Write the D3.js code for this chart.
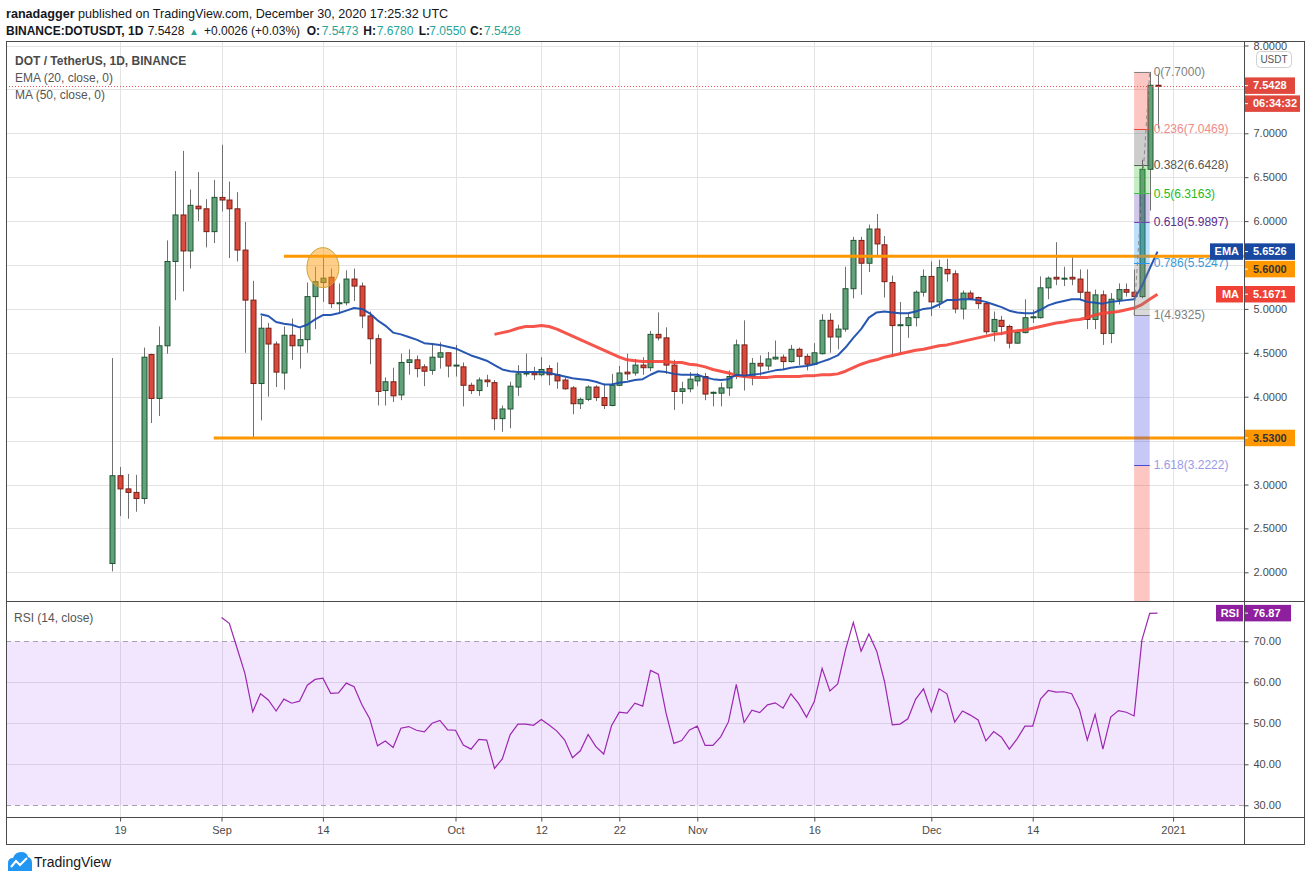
<!DOCTYPE html>
<html>
<head>
<meta charset="utf-8">
<script src="https://cdn.jsdelivr.net/npm/d3@7"></script>
<style>
  body { margin: 0; background: #fff; }
  svg { display: block; font-family: "Liberation Sans", Arial, sans-serif; }
</style>
</head>
<body>
<svg id="chart" width="1311" height="881"></svg>
<script>
// Daily candles DOT/USDT, one per day starting 2020-08-18
const firstDay = Date.UTC(2020, 7, 18);
const opens = [2.10, 3.10, 2.95, 2.91, 2.84, 4.48, 3.98, 4.58, 5.54, 6.07, 5.66, 6.17, 6.14, 5.88,
  6.27, 6.24, 6.14, 5.67, 5.10, 4.15, 4.78, 4.60, 4.27, 4.70, 4.58, 4.65, 5.14, 5.30, 5.36, 5.06, 5.07, 5.34, 5.26, 4.92, 4.66, 4.07, 4.17, 4.02, 4.39, 4.42, 4.34, 4.30, 4.45, 4.50,
  4.35, 4.34, 4.13, 4.07, 4.19, 4.16, 3.75, 3.86, 4.11, 4.26, 4.27, 4.25, 4.32, 4.25, 4.19, 4.10, 3.92, 3.97, 4.11, 3.99, 3.90, 4.13, 4.28, 4.27, 4.36, 4.33, 4.71, 4.67, 4.36, 4.06, 4.09,
  4.18, 4.23, 4.04, 4.04, 4.10, 4.23, 4.59, 4.23, 4.38, 4.35, 4.43, 4.45, 4.40, 4.54, 4.46, 4.37, 4.49, 4.87, 4.68, 4.77, 5.23, 5.78, 5.52, 5.91, 5.73, 5.30, 4.81, 4.81, 4.90, 5.19,
  5.37, 5.08, 5.45, 5.40, 5.00, 5.18, 5.13, 5.06, 4.74, 4.87, 4.80, 4.61, 4.73, 4.90, 4.90, 5.24, 5.36, 5.34, 5.36, 5.34, 5.19, 4.88, 5.16, 4.72, 5.11, 5.22, 5.19, 5.14, 6.59, 7.5473];
const highs = [4.44, 3.20, 3.12, 3.11, 4.56, 4.49, 4.80, 5.78, 6.57, 6.80, 6.36, 6.56, 6.25, 6.47,
  6.87, 6.45, 6.33, 5.99, 5.32, 4.92, 4.84, 4.63, 4.80, 4.89, 4.78, 5.30, 5.48, 5.59, 5.46, 5.29, 5.44, 5.46, 5.30, 4.97, 4.71, 4.22, 4.33, 4.49, 4.54, 4.47, 4.37, 4.61, 4.62, 4.50,
  4.59, 4.39, 4.16, 4.22, 4.25, 4.19, 3.90, 4.17, 4.36, 4.49, 4.34, 4.45, 4.36, 4.39, 4.22, 4.12, 3.99, 4.13, 4.13, 4.15, 4.26, 4.35, 4.49, 4.43, 4.45, 4.75, 4.96, 4.79, 4.42, 4.17, 4.28,
  4.27, 4.27, 4.06, 4.16, 4.30, 4.65, 4.87, 4.44, 4.47, 4.51, 4.64, 4.48, 4.59, 4.56, 4.49, 4.61, 4.94, 4.95, 4.82, 5.48, 5.82, 5.82, 5.96, 6.08, 5.83, 5.38, 5.08, 4.95, 5.21, 5.45,
  5.54, 5.56, 5.57, 5.44, 5.21, 5.21, 5.14, 5.08, 4.97, 4.92, 4.82, 4.74, 5.11, 4.99, 5.37, 5.37, 5.76, 5.48, 5.59, 5.45, 5.45, 5.22, 5.21, 5.18, 5.29, 5.29, 5.45, 6.70, 7.70, 7.678];
const lows = [2.01, 2.64, 2.61, 2.69, 2.78, 3.70, 3.78, 4.49, 5.10, 5.20, 5.46, 6.00, 5.70, 5.75,
  6.11, 5.58, 5.54, 4.50, 3.53, 3.73, 4.00, 4.11, 4.08, 4.42, 4.32, 4.50, 4.77, 5.08, 5.01, 4.95, 5.04, 5.09, 4.78, 4.37, 3.90, 3.90, 3.94, 3.96, 4.25, 4.22, 4.12, 4.25, 4.32, 4.22,
  4.23, 3.89, 4.03, 4.01, 4.11, 3.62, 3.60, 3.64, 4.01, 4.23, 4.19, 4.23, 4.13, 4.09, 4.08, 3.80, 3.86, 3.95, 3.95, 3.86, 3.89, 4.12, 4.19, 4.24, 4.25, 4.29, 4.64, 4.26, 3.85, 3.92, 4.05,
  4.12, 3.96, 3.89, 3.89, 4.01, 4.20, 4.07, 4.13, 4.24, 4.30, 4.42, 4.31, 4.39, 4.36, 4.30, 4.36, 4.48, 4.50, 4.54, 4.74, 5.12, 5.16, 5.42, 5.60, 5.13, 4.45, 4.49, 4.67, 4.80, 5.14,
  4.92, 5.01, 5.31, 4.95, 4.88, 5.10, 5.00, 4.71, 4.63, 4.70, 4.55, 4.60, 4.72, 4.84, 4.89, 5.11, 5.27, 5.26, 5.27, 5.10, 4.77, 4.77, 4.59, 4.61, 5.05, 5.14, 4.93, 5.12, 6.12, 7.055];
const closes = [3.10, 2.95, 2.91, 2.84, 4.45, 3.98, 4.58, 5.54, 6.07, 5.66, 6.18, 6.14, 5.88, 6.27,
  6.24, 6.14, 5.67, 5.10, 4.15, 4.78, 4.60, 4.28, 4.70, 4.58, 4.65, 5.14, 5.31, 5.35, 5.06, 5.07, 5.34, 5.26, 4.92, 4.66, 4.06, 4.17, 4.01, 4.39, 4.42, 4.32, 4.29, 4.45, 4.50, 4.35,
  4.36, 4.13, 4.07, 4.19, 4.17, 3.75, 3.86, 4.12, 4.26, 4.27, 4.25, 4.31, 4.25, 4.18, 4.09, 3.92, 3.97, 4.11, 3.99, 3.90, 4.13, 4.27, 4.26, 4.36, 4.33, 4.71, 4.67, 4.36, 4.06, 4.09, 4.20,
  4.23, 4.03, 4.05, 4.10, 4.23, 4.59, 4.23, 4.38, 4.35, 4.43, 4.45, 4.40, 4.54, 4.46, 4.37, 4.50, 4.87, 4.68, 4.77, 5.23, 5.78, 5.52, 5.91, 5.74, 5.31, 4.81, 4.82, 4.90, 5.19, 5.37,
  5.08, 5.47, 5.40, 5.00, 5.18, 5.12, 5.06, 4.74, 4.88, 4.80, 4.61, 4.73, 4.90, 4.91, 5.24, 5.35, 5.34, 5.35, 5.34, 5.19, 4.88, 5.16, 4.72, 5.11, 5.22, 5.19, 5.14, 6.59, 7.5473, 7.5428];

// EMA(20), first value on day index 19
const emaStart = 19;
const emaValues = [4.94, 4.92, 4.85, 4.83, 4.82, 4.79, 4.82, 4.88, 4.93, 4.93, 4.95, 4.98, 5.01, 5.00, 4.95,
  4.87, 4.81, 4.73, 4.71, 4.68, 4.65, 4.61, 4.60, 4.59, 4.57, 4.55, 4.51, 4.47, 4.44, 4.41, 4.36, 4.31, 4.29,
  4.28, 4.28, 4.28, 4.28, 4.27, 4.25, 4.23, 4.21, 4.20, 4.19, 4.17, 4.14, 4.14, 4.16, 4.17, 4.19, 4.20, 4.25,
  4.29, 4.28, 4.26, 4.25, 4.25, 4.25, 4.22, 4.20, 4.19, 4.20, 4.25, 4.24, 4.25, 4.26, 4.28, 4.30, 4.31, 4.33,
  4.34, 4.35, 4.37, 4.40, 4.43, 4.47, 4.56, 4.67, 4.77, 4.90, 4.96, 4.97, 4.96, 4.95, 4.95, 4.97, 5.00, 5.01,
  5.05, 5.10, 5.10, 5.11, 5.11, 5.10, 5.08, 5.05, 5.02, 4.98, 4.96, 4.95, 4.95, 4.99, 5.04, 5.07, 5.09, 5.11,
  5.11, 5.08, 5.07, 5.06, 5.08, 5.09, 5.10, 5.11, 5.26, 5.46, 5.6526];

// MA(50), first value on day index 49
const maStart = 49;
const maValues = [4.71, 4.73, 4.75, 4.78, 4.80, 4.80, 4.81, 4.80, 4.77, 4.73, 4.69, 4.65, 4.61, 4.57, 4.53,
  4.49, 4.45, 4.42, 4.41, 4.40, 4.40, 4.40, 4.40, 4.39, 4.39, 4.37, 4.36, 4.34, 4.31, 4.29, 4.27, 4.24, 4.23,
  4.22, 4.22, 4.22, 4.23, 4.23, 4.23, 4.23, 4.24, 4.24, 4.25, 4.25, 4.26, 4.29, 4.33, 4.37, 4.40, 4.42, 4.45,
  4.47, 4.49, 4.51, 4.53, 4.54, 4.56, 4.58, 4.59, 4.61, 4.63, 4.65, 4.67, 4.69, 4.71, 4.72, 4.74, 4.75, 4.76,
  4.78, 4.80, 4.82, 4.84, 4.85, 4.87, 4.88, 4.90, 4.93, 4.95, 4.96, 4.97, 4.99, 5.01, 5.05, 5.11, 5.1671];

// RSI(14), first value on day index 14
const rsiStart = 14;
const rsiValues = [75.8, 74.4, 68.3, 62.2, 52.8, 57.2, 55.7, 53.0, 55.9, 54.9, 55.4, 59.3, 60.7, 61.0, 57.3,
  57.4, 59.8, 58.9, 54.5, 51.1, 44.5, 45.7, 44.1, 48.8, 49.2, 48.3, 47.9, 50.0, 50.7, 48.4, 48.3, 44.7, 43.7,
  46.1, 45.9, 39.0, 41.3, 47.2, 49.8, 49.8, 49.5, 50.9, 49.6, 48.1, 45.9, 41.6, 43.3, 47.3, 44.3, 42.5, 49.4,
  52.7, 52.5, 54.9, 54.2, 62.9, 62.0, 52.4, 45.1, 45.8, 48.4, 49.3, 44.6, 44.6, 46.7, 50.4, 59.5, 50.2, 53.2,
  52.6, 54.5, 55.0, 53.7, 57.2, 54.8, 51.5, 55.3, 63.4, 57.9, 59.6, 67.9, 74.6, 67.6, 71.8, 67.6, 60.2, 49.6,
  49.8, 51.1, 55.9, 58.4, 52.8, 58.4, 57.2, 50.3, 53.0, 52.0, 50.8, 45.7, 48.0, 46.6, 43.7, 46.2, 49.3, 49.3,
  55.9, 58.0, 57.6, 57.7, 57.2, 53.3, 45.9, 52.2, 43.7, 51.5, 53.1, 52.7, 51.8, 70.3, 76.8, 76.87];

// Axis ticks
const priceGrid = [2, 2.5, 3, 3.5, 4, 4.5, 5, 5.5, 6, 6.5, 7, 7.5, 8];
const priceTickLabels = [2, 2.5, 3, 4, 4.5, 5, 6, 6.5, 7, 8];
const rsiTicks = [30, 40, 50, 60, 70];
const dateTicks = ["2020-08-19", "2020-09-01", "2020-09-14", "2020-10-01", "2020-10-12", "2020-10-22",
  "2020-11-01", "2020-11-16", "2020-12-01", "2020-12-14", "2021-01-01"];
const dateTickLabels = ["19", "Sep", "14", "Oct", "12", "22", "Nov", "16", "Dec", "14", "2021"];

// Drawings
const supportLevel = 3.53, resistanceLevel = 5.60;
const supportFrom = "2020-08-31", resistanceFrom = "2020-09-09";
const circleAt = { date: "2020-09-14", price: 5.47 };
const fibLow = { date: "2020-12-27", price: 4.9325 };
const fibHigh = { date: "2020-12-29", price: 7.70 };
const fibRatios = [0, 0.236, 0.382, 0.5, 0.618, 0.786, 1, 1.618, 2.618];
const fibColors = ["#808080", "#f44336", "#5a5a5a", "#3cc43c", "#6a47b8", "#2196f3", "#808080", "#4848e0", "#f44336"];
const fibTextColors = ["#808080", "#f08a8a", "#555555", "#22bb22", "#5b2d8e", "#3a9ad9", "#808080", "#9a9ae6", "#f08a8a"];

const lastPrice = 7.5428, lastRsi = 76.87;

// ---------------------------------------------------------------
const day = i => new Date(firstDay + i * 864e5);
const parse = s => new Date(s + "T00:00:00Z");
const candles = opens.map((o, i) => ({ date: day(i), open: o, high: highs[i], low: lows[i], close: closes[i] }));

const L = 6, R = 1244, RR = 1304, T = 41, PB = 601, RB = 817, B = 844;

const x = d3.scaleUtc().domain([day(0), parse("2021-01-01")]).range([112.3, 1173.1]);
const y = d3.scaleLinear().domain([2, 7]).range([572.3, 133.3]);
const yR = d3.scaleLinear().domain([30, 70]).range([805.3, 641.3]);

const svg = d3.select("#chart");
const defs = svg.append("defs");
defs.append("clipPath").attr("id", "clipPrice").append("rect")
  .attr("x", L).attr("y", T).attr("width", R - L).attr("height", PB - T);
defs.append("clipPath").attr("id", "clipRsi").append("rect")
  .attr("x", L).attr("y", PB).attr("width", R - L).attr("height", RB - PB);
defs.append("clipPath").attr("id", "clipAxis").append("rect")
  .attr("x", R).attr("y", T).attr("width", RR - R).attr("height", PB - T);

// header
const head = svg.append("g").attr("fill", "#131722");
const h1 = head.append("text").attr("x", 6).attr("y", 18).attr("font-size", "12.6px");
h1.append("tspan").attr("font-weight", "bold").text("ranadagger");
h1.append("tspan").text(" published on TradingView.com, December 30, 2020 17:25:32 UTC");
const h2 = head.append("text").attr("y", 35).attr("font-size", "12px");
const h2Parts = [
  [6, "BINANCE:DOTUSDT, 1D", "bold", "#131722"], [147.7, "7.5428", null, "#131722"],
  [189, "▲", null, "#26a69a"], [204, "+0.0026 (+0.03%)", null, "#131722"],
  [306.7, "O:", "bold", "#131722"], [321.7, "7.5473", null, "#26a69a"],
  [363.3, "H:", "bold", "#131722"], [376.7, "7.6780", null, "#26a69a"],
  [418.7, "L:", "bold", "#131722"], [429.3, "7.0550", null, "#26a69a"],
  [470, "C:", "bold", "#131722"], [484, "7.5428", null, "#26a69a"]];
h2Parts.forEach(([px, t, w, c]) => {
  h2.append("tspan").attr("x", px).attr("font-weight", w).attr("fill", c)
    .attr("font-size", t === "▲" ? "10px" : null).text(t);
});

// grid
const grid = svg.append("g").attr("stroke", "#e3e3e3").attr("stroke-width", 1);
grid.append("g").attr("clip-path", "url(#clipPrice)").selectAll("line").data(priceGrid).join("line")
  .attr("x1", L).attr("x2", R).attr("y1", d => Math.round(y(d)) + 0.5).attr("y2", d => Math.round(y(d)) + 0.5);
grid.selectAll(".vg").data(dateTicks).join("line").attr("class", "vg")
  .attr("x1", d => Math.round(x(parse(d))) + 0.5).attr("x2", d => Math.round(x(parse(d))) + 0.5)
  .attr("y1", T).attr("y2", RB);
grid.selectAll(".rg").data([40, 50, 60]).join("line").attr("class", "rg")
  .attr("x1", L).attr("x2", R).attr("y1", d => Math.round(yR(d)) + 0.5).attr("y2", d => Math.round(yR(d)) + 0.5);

// RSI pane
const rsiG = svg.append("g").attr("clip-path", "url(#clipRsi)");
rsiG.append("rect").attr("x", L).attr("width", R - L).attr("y", yR(70)).attr("height", yR(30) - yR(70))
  .attr("fill", "rgba(170,90,250,0.15)");
rsiG.selectAll(".band").data([30, 70]).join("line").attr("class", "band")
  .attr("x1", L).attr("x2", R).attr("y1", d => Math.round(yR(d)) + 0.5).attr("y2", d => Math.round(yR(d)) + 0.5)
  .attr("stroke", "#a8a0ae").attr("stroke-dasharray", "5,4");
rsiG.append("path").datum(rsiValues)
  .attr("d", d3.line().x((d, i) => x(day(rsiStart + i))).y(d => yR(d)))
  .attr("fill", "none").attr("stroke", "#9c27b0").attr("stroke-width", 1.2);
svg.append("text").attr("x", 14).attr("y", 622).attr("font-size", "12px").attr("fill", "#555")
  .text("RSI (14, close)");

// price pane
const pane = svg.append("g").attr("clip-path", "url(#clipPrice)");

const cg = pane.append("g").selectAll("g").data(candles).join("g");
cg.append("line")
  .attr("x1", d => Math.round(x(d.date)) + 0.5).attr("x2", d => Math.round(x(d.date)) + 0.5)
  .attr("y1", d => y(d.high)).attr("y2", d => y(d.low))
  .attr("stroke", "#707070").attr("stroke-width", 1);
cg.append("rect")
  .attr("x", d => Math.round(x(d.date)) - 2)
  .attr("width", 5)
  .attr("y", d => y(Math.max(d.open, d.close)))
  .attr("height", d => Math.max(1, Math.abs(y(d.open) - y(d.close))))
  .attr("fill", d => d.close >= d.open ? "#62a27a" : "#d94a3c")
  .attr("stroke", d => d.close >= d.open ? "#1f5532" : "#7a1f17")
  .attr("stroke-width", 1);

pane.append("path").datum(maValues)
  .attr("d", d3.line().x((d, i) => x(day(maStart + i))).y(d => y(d)))
  .attr("fill", "none").attr("stroke", "#f44336").attr("stroke-width", 3).attr("stroke-opacity", 0.9)
  .attr("stroke-linejoin", "round");
pane.append("path").datum(emaValues)
  .attr("d", d3.line().x((d, i) => x(day(emaStart + i))).y(d => y(d)))
  .attr("fill", "none").attr("stroke", "#1b4ead").attr("stroke-width", 2).attr("stroke-opacity", 0.95)
  .attr("stroke-linejoin", "round");

// support / resistance
pane.selectAll(".sr").data([[supportFrom, supportLevel], [resistanceFrom, resistanceLevel]]).join("line")
  .attr("class", "sr")
  .attr("x1", d => x(parse(d[0]))).attr("x2", R)
  .attr("y1", d => y(d[1])).attr("y2", d => y(d[1]))
  .attr("stroke", "#ff9800").attr("stroke-width", 3);

pane.append("ellipse")
  .attr("cx", x(parse(circleAt.date))).attr("cy", y(circleAt.price))
  .attr("rx", 16).attr("ry", 20)
  .attr("fill", "rgba(255,160,20,0.5)").attr("stroke", "#caa23c").attr("stroke-width", 1);

// fib retracement
const fx0 = x(parse(fibLow.date)), fx1 = x(parse(fibHigh.date));
const range = fibHigh.price - fibLow.price;
const fib = fibRatios.map((r, i) => ({ r, price: fibHigh.price - r * range, color: fibColors[i], text: fibTextColors[i] }));
pane.selectAll(".fband").data(fib.slice(1)).join("rect").attr("class", "fband")
  .attr("x", fx0).attr("width", fx1 - fx0)
  .attr("y", (d, i) => y(fib[i].price)).attr("height", (d, i) => y(d.price) - y(fib[i].price))
  .attr("fill", d => d.color).attr("fill-opacity", 0.3);
pane.selectAll(".flev").data(fib).join("line").attr("class", "flev")
  .attr("x1", fx0).attr("x2", fx1)
  .attr("y1", d => Math.round(y(d.price)) + 0.5).attr("y2", d => Math.round(y(d.price)) + 0.5)
  .attr("stroke", d => d.color).attr("stroke-width", 1);
pane.append("line")
  .attr("x1", fx0).attr("y1", y(fibLow.price)).attr("x2", fx1).attr("y2", y(fibHigh.price))
  .attr("stroke", "#8a8a8a").attr("stroke-dasharray", "4,3").attr("stroke-width", 1);
pane.selectAll(".flab").data(fib.slice(0, 8)).join("text").attr("class", "flab")
  .attr("x", fx1 + 4).attr("y", d => y(d.price)).attr("dy", "0.35em")
  .attr("font-size", "12px").attr("fill", d => d.text)
  .text(d => `${d.r}(${d.price.toFixed(4)})`);

// last price dotted line
pane.append("line").attr("x1", L).attr("x2", R)
  .attr("y1", Math.round(y(lastPrice)) + 0.5).attr("y2", Math.round(y(lastPrice)) + 0.5)
  .attr("stroke", "#ef5350").attr("stroke-dasharray", "1,2");

// legend
const leg = svg.append("g").attr("font-size", "12px").attr("fill", "#555");
leg.append("text").attr("x", 15).attr("y", 65).attr("font-weight", "bold").attr("fill", "#4a4a4a")
  .text("DOT / TetherUS, 1D, BINANCE");
leg.append("text").attr("x", 15).attr("y", 82).text("EMA (20, close, 0)");
leg.append("text").attr("x", 15).attr("y", 99).text("MA (50, close, 0)");

// frame
const frame = svg.append("g").attr("fill", "none").attr("stroke", "#4a4a4a").attr("stroke-width", 1);
frame.append("rect").attr("x", L + 0.5).attr("y", T + 0.5).attr("width", RR - L).attr("height", B - T);
frame.append("line").attr("x1", L).attr("x2", RR).attr("y1", PB + 0.5).attr("y2", PB + 0.5);
frame.append("line").attr("x1", L).attr("x2", RR).attr("y1", RB + 0.5).attr("y2", RB + 0.5);
frame.append("line").attr("x1", R + 0.5).attr("x2", R + 0.5).attr("y1", T).attr("y2", B);

// axes
function styleAxis(g) {
  g.select(".domain").remove();
  g.selectAll("line").attr("stroke", "#4a4a4a");
  g.selectAll("text").attr("fill", "#4a4a4a").attr("font-size", "11px").attr("font-family", null);
}
svg.append("g").attr("clip-path", "url(#clipAxis)").append("g")
  .attr("transform", `translate(${R + 0.5},0)`)
  .call(d3.axisRight(y).tickValues(priceTickLabels).tickFormat(d3.format(".4f")).tickSize(4).tickPadding(5))
  .call(styleAxis);
svg.append("g").attr("transform", `translate(${R + 0.5},0)`)
  .call(d3.axisRight(yR).tickValues(rsiTicks).tickFormat(d3.format(".2f")).tickSize(4).tickPadding(5))
  .call(styleAxis);
svg.append("g").attr("transform", `translate(0,${RB + 0.5})`)
  .call(d3.axisBottom(x).tickValues(dateTicks.map(parse)).tickFormat((d, i) => dateTickLabels[i]).tickSize(4).tickPadding(5))
  .call(styleAxis);

// axis tags
function tag(cy, text, fill, opts = {}) {
  const h = opts.h || 16.5, w = opts.w || 50;
  const g = svg.append("g");
  g.append("rect").attr("x", R + 1).attr("y", cy - h / 2).attr("width", w).attr("height", h).attr("fill", fill);
  g.append("line").attr("x1", R + 1).attr("x2", R + 4).attr("y1", cy).attr("y2", cy).attr("stroke", "#fff");
  g.append("text").attr("x", R + 9).attr("y", cy).attr("dy", "0.35em").attr("font-size", "11px")
    .attr("font-weight", "bold").attr("fill", opts.color || "#fff").text(text);
  if (opts.name) {
    g.append("rect").attr("x", R - opts.nameW).attr("y", cy - h / 2).attr("width", opts.nameW - 1).attr("height", h).attr("fill", fill);
    g.append("text").attr("x", R - 5).attr("y", cy).attr("dy", "0.35em").attr("text-anchor", "end")
      .attr("font-size", "11px").attr("font-weight", "bold").attr("fill", "#fff").text(opts.name);
  }
}
tag(y(lastPrice), lastPrice.toFixed(4), "#e0483e");
tag(y(lastPrice) + 18, "06:34:32", "#e0483e", { w: 55 });
tag(y(emaValues[emaValues.length - 1]), "5.6526", "#1848a0", { name: "EMA", nameW: 34 });
tag(y(emaValues[emaValues.length - 1]) + 17.5, resistanceLevel.toFixed(4), "#ff9800", { color: "#333" });
tag(y(maValues[maValues.length - 1]), "5.1671", "#ef4136", { name: "MA", nameW: 28 });
tag(y(supportLevel), supportLevel.toFixed(4), "#ff9800", { color: "#333" });
tag(yR(lastRsi), lastRsi.toFixed(2), "#8e1f9e", { name: "RSI", nameW: 28, w: 46 });

// USDT button
svg.append("rect").attr("x", 1256.5).attr("y", 51.5).attr("width", 35).attr("height", 16).attr("rx", 4)
  .attr("fill", "#fff").attr("stroke", "#d0d0d0");
svg.append("text").attr("x", 1274).attr("y", 59.5).attr("dy", "0.35em").attr("text-anchor", "middle")
  .attr("font-size", "10px").attr("fill", "#555").text("USDT");

// TradingView logo
const logo = svg.append("g");
logo.append("path")
  .attr("d", "M8,871 L8,863 Q8,858 13,858 Q15,852 21,852 Q27,852 28,857 Q32,858 32,863 L32,871 Z")
  .attr("fill", "#2196f3");
logo.append("path").attr("d", "M11,867 L16,861 L20,865 L27,858")
  .attr("fill", "none").attr("stroke", "#fff").attr("stroke-width", 2);
svg.append("text").attr("x", 34).attr("y", 867).attr("font-size", "14px").attr("fill", "#131722")
  .text("TradingView");
</script>
</body>
</html>
